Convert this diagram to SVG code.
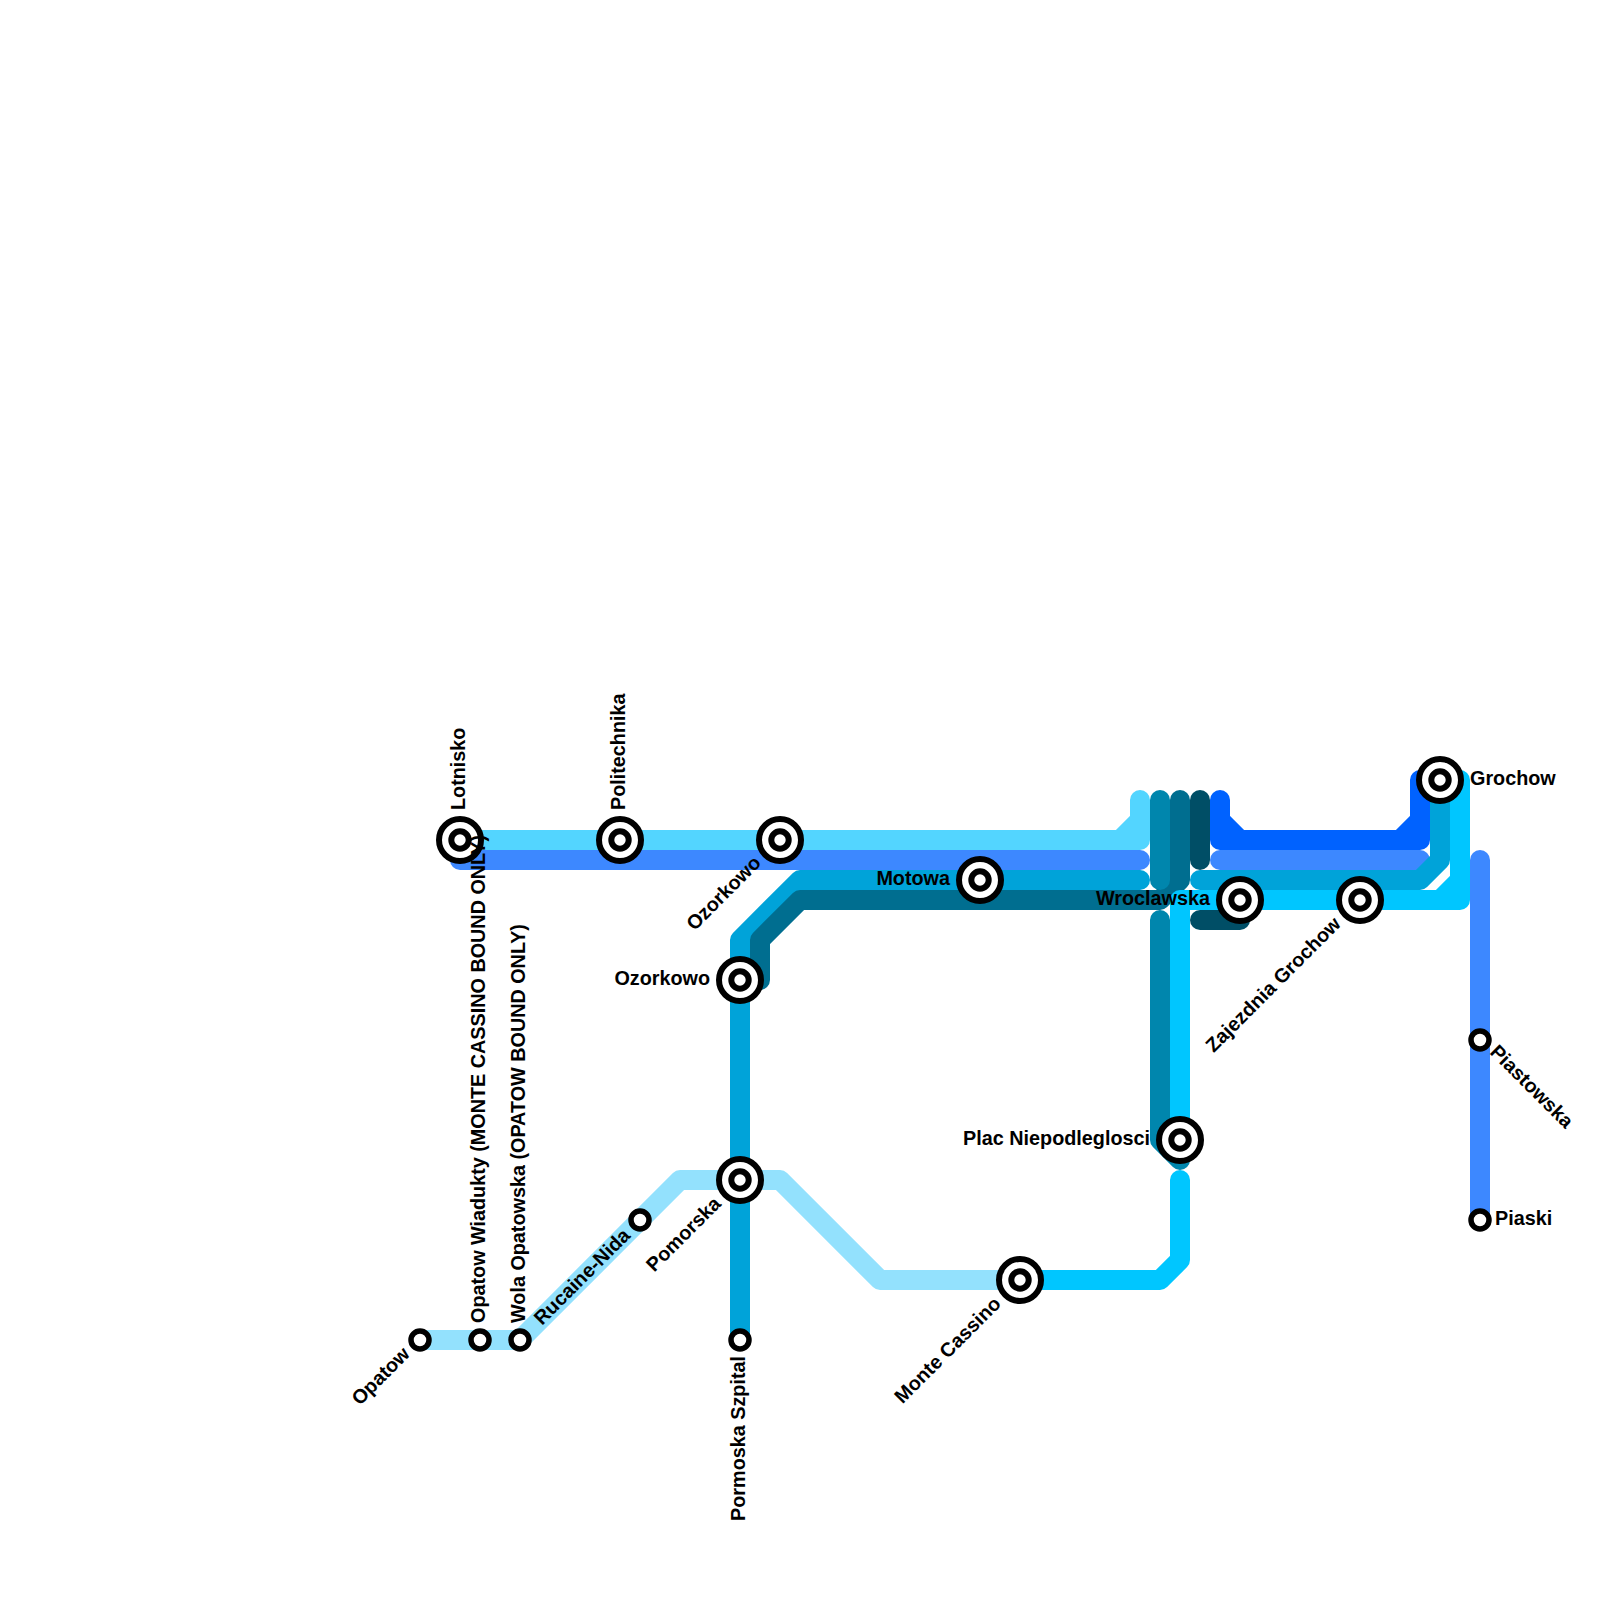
<svg xmlns="http://www.w3.org/2000/svg" width="1600" height="1600" viewBox="0 0 1600 1600">
<style>
.l{fill:none;stroke-width:20;stroke-linecap:round;stroke-linejoin:round}
.big1{fill:#fff;stroke:#000;stroke-width:6}
.big2{fill:#fff;stroke:#000;stroke-width:6}
.small{fill:#fff;stroke:#000;stroke-width:5.5}
text{font-family:"Liberation Sans",Arial,sans-serif;font-weight:700;font-size:19.8px;fill:#000}
.e{text-anchor:end}
</style>
<defs>
<g id="bs"><circle class="big1" r="21"/><circle class="big2" r="8.7"/></g>
<circle id="ss" class="small" r="9"/>
</defs>
<rect width="1600" height="1600" fill="#fff"/>
<g id="connectors">
<path class="l" stroke="#93e1fd" d="M420 1340H520L680 1180H780L880 1280H1020"/>
<path class="l" stroke="#53d5ff" d="M460 840H1140V800M1120 840L1140 820"/>
<path class="l" stroke="#3d88ff" d="M460 860H1140"/>
<path class="l" stroke="#3d88ff" d="M1220 860H1420"/>
<path class="l" stroke="#3d88ff" d="M1480 860V1220"/>
<path class="l" stroke="#00a3d9" d="M740 1340V940L800 880H1140"/>
<path class="l" stroke="#006e90" d="M760 980V940L800 900H1160L1180 880V800"/>
<path class="l" stroke="#0086ad" d="M1160 800V880"/>
<path class="l" stroke="#004e66" d="M1200 800V860"/>
<path class="l" stroke="#004e66" d="M1200 920H1240"/>
<path class="l" stroke="#0062ff" d="M1220 800V840H1420V780M1220 820L1240 840M1400 840L1420 820"/>
<path class="l" stroke="#00c6ff" d="M1180 1140V900H1460V780M1440 900L1460 880"/>
<path class="l" stroke="#00a3d9" d="M1200 880H1420L1440 860V780"/>
<path class="l" stroke="#0086ad" d="M1160 920V1140L1180 1160"/>
<path class="l" stroke="#00c6ff" d="M1180 1180V1260L1160 1280H1020"/>
</g>
<g id="n-lotnisko"><use href="#bs" x="460" y="840"/><text transform="translate(465,810) rotate(-90)">Lotnisko</text></g>
<g id="n-politechnika"><use href="#bs" x="620" y="840"/><text transform="translate(625,810) rotate(-90)">Politechnika</text></g>
<g id="n-ozorkowo-a"><use href="#bs" x="780" y="840"/><text class="e" transform="translate(762,864) rotate(-45)">Ozorkowo</text></g>
<g id="n-motowa"><use href="#bs" x="980" y="880"/><text class="e" x="950" y="885">Motowa</text></g>
<g id="n-ozorkowo-b"><use href="#bs" x="740" y="980"/><text class="e" x="710" y="985">Ozorkowo</text></g>
<g id="n-pomorska"><use href="#bs" x="740" y="1180"/><text class="e" transform="translate(722,1205) rotate(-45)">Pomorska</text></g>
<g id="n-pormoska"><use href="#ss" x="740" y="1340"/><text class="e" transform="translate(745,1356) rotate(-90)">Pormoska Szpital</text></g>
<g id="n-opatow"><use href="#ss" x="420" y="1340"/><text class="e" transform="translate(411,1355) rotate(-45)">Opatow</text></g>
<g id="n-wiadukty"><use href="#ss" x="480" y="1340"/><text transform="translate(485,1323) rotate(-90)">Opatow Wiadukty (MONTE CASSINO BOUND ONLY)</text></g>
<g id="n-wola"><use href="#ss" x="520" y="1340"/><text transform="translate(525,1323) rotate(-90)">Wola Opatowska (OPATOW BOUND ONLY)</text></g>
<g id="n-rucaine"><use href="#ss" x="640" y="1220"/><text transform="translate(542,1326) rotate(-45)">Rucaine-Nida</text></g>
<g id="n-monte"><use href="#bs" x="1020" y="1280"/><text class="e" transform="translate(1002,1305) rotate(-45)">Monte Cassino</text></g>
<g id="n-plac"><use href="#bs" x="1180" y="1140"/><text class="e" x="1150" y="1145">Plac Niepodleglosci</text></g>
<g id="n-wroclawska"><use href="#bs" x="1240" y="900"/><text class="e" x="1210" y="905">Wroclawska</text></g>
<g id="n-zajezdnia"><use href="#bs" x="1360" y="900"/><text class="e" transform="translate(1342,925) rotate(-45)">Zajezdnia Grochow</text></g>
<g id="n-grochow"><use href="#bs" x="1440" y="780"/><text x="1470" y="785">Grochow</text></g>
<g id="n-piastowska"><use href="#ss" x="1480" y="1040"/><text transform="translate(1489,1053) rotate(45)">Piastowska</text></g>
<g id="n-piaski"><use href="#ss" x="1480" y="1220"/><text x="1495" y="1225">Piaski</text></g>
</svg>
